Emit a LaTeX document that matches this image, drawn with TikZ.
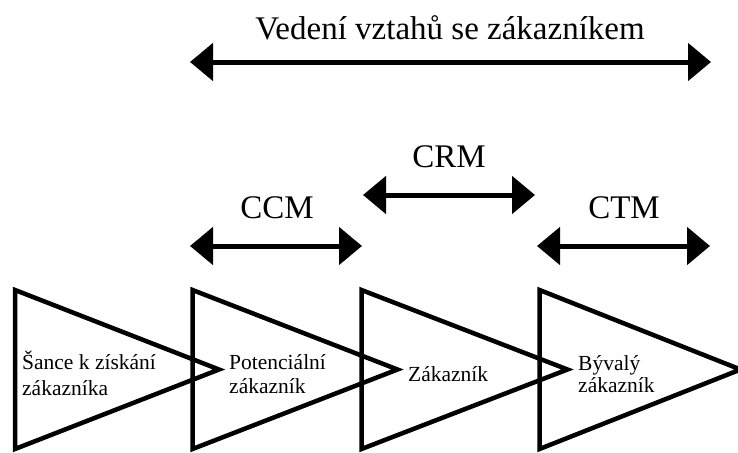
\documentclass[tikz,border=0pt]{standalone}
\usepackage{fontspec}
\setmainfont{Liberation Serif}
\usetikzlibrary{arrows.meta}
\begin{document}
\begin{tikzpicture}[x=1pt,y=-1pt,
  dbl/.style={line width=5pt, {Triangle[length=23pt,width=37pt]}-{Triangle[length=23pt,width=37pt]}},
  tri/.style={line width=4.5pt, line join=miter},
  big/.style={font=\fontsize{33}{38}\selectfont, inner sep=0pt, anchor=base},
  small/.style={inner sep=0pt, anchor=base west}]
\useasboundingbox (0,0) rectangle (738,452);
% triangles
\foreach \l/\w in {15/204, 192.5/205, 361.5/206, 539.5/201}{
  \draw[tri] (\l,290) -- (\l+\w,369.5) -- (\l,449) -- cycle;
}
% arrows
\coordinate (topL) at (190,62);  \coordinate (topR) at (711,62);
\coordinate (crmL) at (363,195); \coordinate (crmR) at (535,195);
\coordinate (ccmL) at (190,246); \coordinate (ccmR) at (362,246);
\coordinate (ctmL) at (537,246); \coordinate (ctmR) at (710,246);
\draw[dbl] (topL) -- (topR);
\draw[dbl] (crmL) -- (crmR);
\draw[dbl] (ccmL) -- (ccmR);
\draw[dbl] (ctmL) -- (ctmR);
% labels
\node[big] (title) at (450,40) {Vedení vztahů se zákazníkem};
\node[big] (crm) at (449,167) {CRM};
\node[big] (ccm) at (277,218) {CCM};
\node[big] (ctm) at (624,218) {CTM};
\node[small, font=\fontsize{21.5}{26}\selectfont] (l1) at (22,369)
  {\begin{tabular}[t]{@{}l@{}}Šance k získání\\zákazníka\end{tabular}};
\node[small, font=\fontsize{21.5}{24}\selectfont] (l2) at (229,369)
  {\begin{tabular}[t]{@{}l@{}}Potenciální\\zákazník\end{tabular}};
\node[small, font=\fontsize{21.5}{24}\selectfont] (l3) at (408,381) {Zákazník};
\node[small, font=\fontsize{21.5}{22}\selectfont] (l4) at (578,370)
  {\begin{tabular}[t]{@{}l@{}}Bývalý\\zákazník\end{tabular}};
\end{tikzpicture}
\end{document}
